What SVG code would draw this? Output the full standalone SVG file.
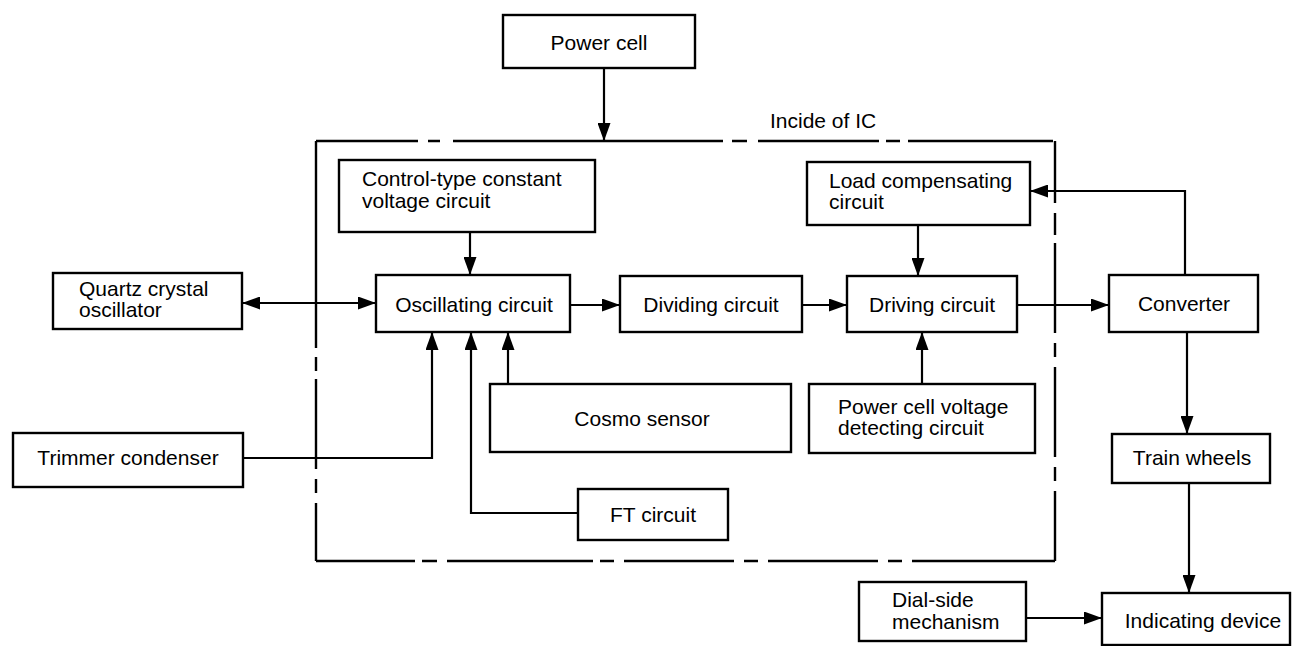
<svg xmlns="http://www.w3.org/2000/svg" width="1294" height="646" viewBox="0 0 1294 646">
<defs>
<style>
.box{fill:#fff;stroke:#000;stroke-width:2.4}
.t{font-family:"Liberation Sans",Arial,sans-serif;font-size:21px;fill:#000}
.c{text-anchor:middle}
.ln{fill:none;stroke:#000;stroke-width:2.2}
.arr{marker-end:url(#ah)}
.dash{fill:none;stroke:#000;stroke-width:2.4}
</style>
<marker id="ah" markerUnits="userSpaceOnUse" markerWidth="18" markerHeight="13" refX="18" refY="6.5" orient="auto-start-reverse" viewBox="0 0 18 13">
<path d="M0,0 L18,6.5 L0,13 z" fill="#000"/>
</marker>
</defs>
<rect width="1294" height="646" fill="#fff"/>

<g id="ic-boundary">
<path class="dash" d="M316 141 H1055" stroke-dasharray="102 10 12 13 270 9 15 11 121 7 14 8 145"/>
<path class="dash" d="M1055 141 V561" stroke-dasharray="62 10 22 8 90 10 14 10 90 10 14 10 90"/>
<path class="dash" d="M316 561 H1055" stroke-dasharray="99 7 15 10 146 7 14 10 110 10 14 10 110 10 14 10 200"/>
<path class="dash" d="M316 141 V561" stroke-dasharray="207 9 14 8 90 10 14 10 90 10 14 10 90"/>
<text class="t" x="770" y="128">Incide of IC</text>
</g>

<g id="power-cell"><rect class="box" x="503" y="15" width="192" height="53"/><text class="t c" x="599" y="50">Power cell</text></g>
<g id="control-type"><rect class="box" x="339" y="160" width="256" height="72"/><text class="t" x="362" y="186">Control-type constant</text><text class="t" x="362" y="208">voltage circuit</text></g>
<g id="load-comp"><rect class="box" x="807" y="162" width="223" height="63"/><text class="t" x="829" y="188">Load compensating</text><text class="t" x="829" y="209">circuit</text></g>
<g id="quartz"><rect class="box" x="53" y="273" width="189" height="56"/><text class="t" x="79" y="296">Quartz crystal</text><text class="t" x="79" y="317">oscillator</text></g>
<g id="oscillating"><rect class="box" x="376" y="275" width="194" height="57"/><text class="t c" x="474" y="312">Oscillating circuit</text></g>
<g id="dividing"><rect class="box" x="620" y="276" width="182" height="56"/><text class="t c" x="711" y="312">Dividing circuit</text></g>
<g id="driving"><rect class="box" x="847" y="276" width="170" height="56"/><text class="t c" x="932" y="312">Driving circuit</text></g>
<g id="converter"><rect class="box" x="1109" y="275" width="149" height="57"/><text class="t c" x="1184" y="311">Converter</text></g>
<g id="trimmer"><rect class="box" x="13" y="433" width="230" height="54"/><text class="t c" x="128" y="465">Trimmer condenser</text></g>
<g id="cosmo"><rect class="box" x="490" y="384" width="301" height="68"/><text class="t c" x="642" y="426">Cosmo sensor</text></g>
<g id="pcv"><rect class="box" x="809" y="384" width="226" height="69"/><text class="t" x="838" y="414">Power cell voltage</text><text class="t" x="838" y="435">detecting circuit</text></g>
<g id="ft"><rect class="box" x="578" y="489" width="150" height="51"/><text class="t c" x="653" y="522">FT circuit</text></g>
<g id="train"><rect class="box" x="1112" y="434" width="158" height="49"/><text class="t c" x="1192" y="465">Train wheels</text></g>
<g id="dial"><rect class="box" x="859" y="582" width="167" height="59"/><text class="t" x="892" y="607">Dial-side</text><text class="t" x="892" y="629">mechanism</text></g>
<g id="indicating"><rect class="box" x="1102" y="593" width="188" height="52"/><text class="t c" x="1203" y="628">Indicating device</text></g>

<g id="connectors">
<path class="ln arr" d="M604 68 V141"/>
<path class="ln arr" d="M470 232 V275"/>
<path class="ln arr" d="M242 303 H376" marker-start="url(#ah)"/>
<path class="ln arr" d="M570 305 H620"/>
<path class="ln arr" d="M802 305 H847"/>
<path class="ln arr" d="M918 225 V276"/>
<path class="ln arr" d="M922 384 V332"/>
<path class="ln arr" d="M1017 305 H1109"/>
<path class="ln arr" d="M1185 275 V191 H1030"/>
<path class="ln arr" d="M1187 332 V434"/>
<path class="ln arr" d="M1189 483 V593"/>
<path class="ln arr" d="M1026 618 H1102"/>
<path class="ln arr" d="M243 458 H432 V332"/>
<path class="ln arr" d="M578 513 H471 V332"/>
<path class="ln arr" d="M508 384 V332"/>
</g>
</svg>
